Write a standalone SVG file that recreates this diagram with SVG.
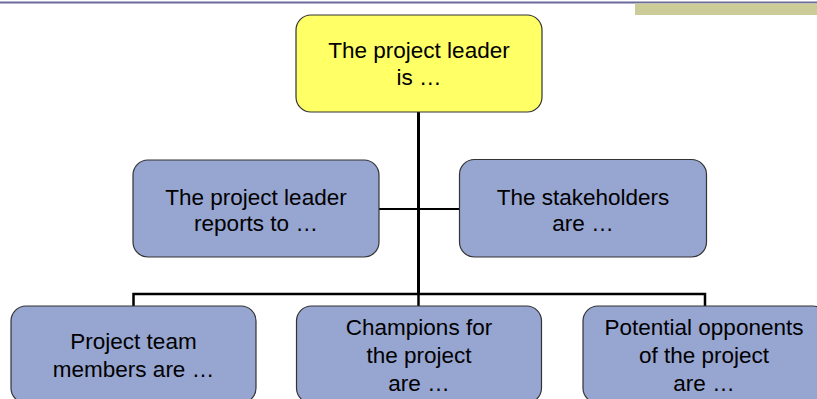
<svg xmlns="http://www.w3.org/2000/svg" width="817" height="399" viewBox="0 0 817 399">
<style>
.box{stroke:#333;stroke-width:1.2}
.yel{fill:#ffff66}
.blu{fill:#97a5d1}
.t{font-family:"Liberation Sans",Arial,sans-serif;font-size:22.5px;fill:#000;text-anchor:middle}
.c{stroke:#000;fill:none;stroke-width:2.5}
</style>
<rect x="0" y="1.5" width="817" height="2" fill="#6b6b9b"/>
<rect x="635" y="3.5" width="182" height="11.5" fill="#cccc99"/>
<g id="connectors">
<line class="c" x1="418.5" y1="112" x2="418.5" y2="295" style="stroke-width:3"/>
<line class="c" x1="379" y1="209" x2="460" y2="209" style="stroke-width:2"/>
<polyline class="c" points="133.5,306 133.5,294 705,294 705,306"/>
<line class="c" x1="418.5" y1="294" x2="418.5" y2="306"/>
</g>
<g id="leader">
<rect class="box yel" x="296" y="15" width="246" height="97" rx="15"/>
<text class="t" x="419" y="58">The project leader</text>
<text class="t" x="419" y="85">is …</text>
</g>
<g id="reports">
<rect class="box blu" x="133" y="160" width="246" height="97" rx="15"/>
<text class="t" x="256" y="205">The project leader</text>
<text class="t" x="256" y="231">reports to …</text>
</g>
<g id="stakeholders">
<rect class="box blu" x="459.5" y="159.5" width="247" height="97.5" rx="15"/>
<text class="t" x="583" y="205">The stakeholders</text>
<text class="t" x="583" y="231">are …</text>
</g>
<g id="team">
<rect class="box blu" x="11" y="306" width="245" height="97" rx="15"/>
<text class="t" x="133.5" y="349">Project team</text>
<text class="t" x="133.5" y="377">members are …</text>
</g>
<g id="champions">
<rect class="box blu" x="296.5" y="306" width="245" height="97" rx="15"/>
<text class="t" x="419" y="335">Champions for</text>
<text class="t" x="419" y="363">the project</text>
<text class="t" x="419" y="391">are …</text>
</g>
<g id="opponents">
<rect class="box blu" x="583" y="306" width="245" height="97" rx="15"/>
<text class="t" x="704" y="335">Potential opponents</text>
<text class="t" x="704" y="363">of the project</text>
<text class="t" x="704" y="391">are …</text>
</g>
</svg>
